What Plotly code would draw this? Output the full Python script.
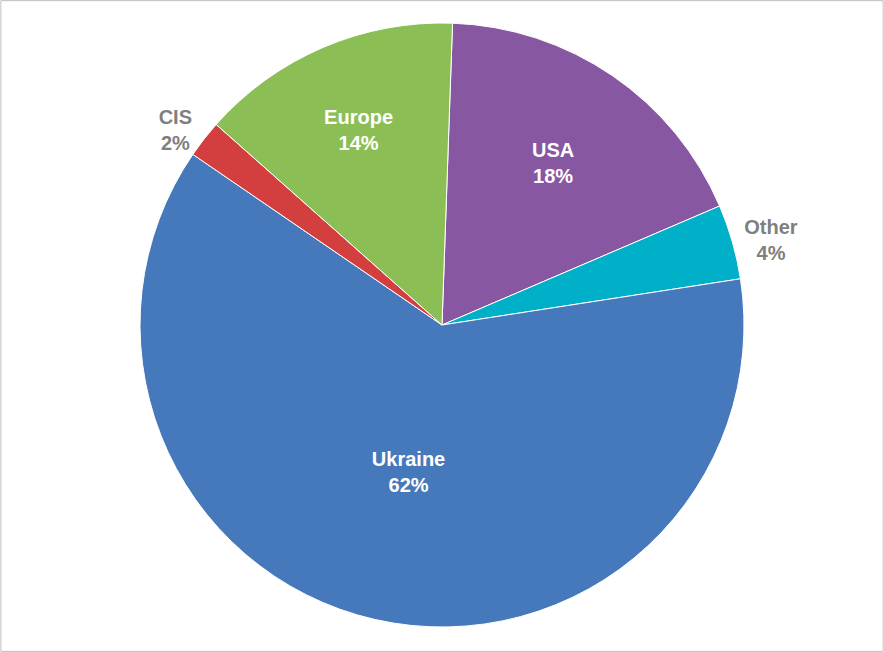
import plotly.graph_objects as go

labels = ["USA", "Other", "Ukraine", "CIS", "Europe"]
values = [18, 4, 62, 2, 14]
colors = ["#8757A2", "#00AFC8", "#4679BC", "#D33F3F", "#8BBF56"]
positions = ["inside", "outside", "inside", "outside", "inside"]
text_colors = ["white", "#7F7F7F", "white", "#7F7F7F", "white"]

fig = go.Figure(go.Pie(
    labels=labels, values=values, sort=False, direction="clockwise", rotation=2,
    marker=dict(colors=colors, line=dict(color="white", width=1)),
    texttemplate="<b>%{label}<br>%{percent:.0%}</b>",
    textposition=positions, insidetextorientation="horizontal",
    textfont=dict(family="Liberation Sans, Arial", size=20, color=text_colors),
    domain=dict(x=[140/884, 744/884], y=[25/652, 629/652]),
    showlegend=False, hoverinfo="label+percent",
))
fig.update_layout(
    width=884, height=652, margin=dict(l=0, r=0, t=0, b=0),
    paper_bgcolor="white", uniformtext=dict(minsize=20, mode="show"),
    shapes=[dict(type="rect", xref="paper", yref="paper", x0=0.001, y0=0.001, x1=0.999, y1=0.999,
                 line=dict(color="#BFBFBF", width=1))],
)
fig.write_html("out.html", config={"displayModeBar": False},
               post_script="document.body.style.margin='0';document.body.style.overflow='hidden';")
